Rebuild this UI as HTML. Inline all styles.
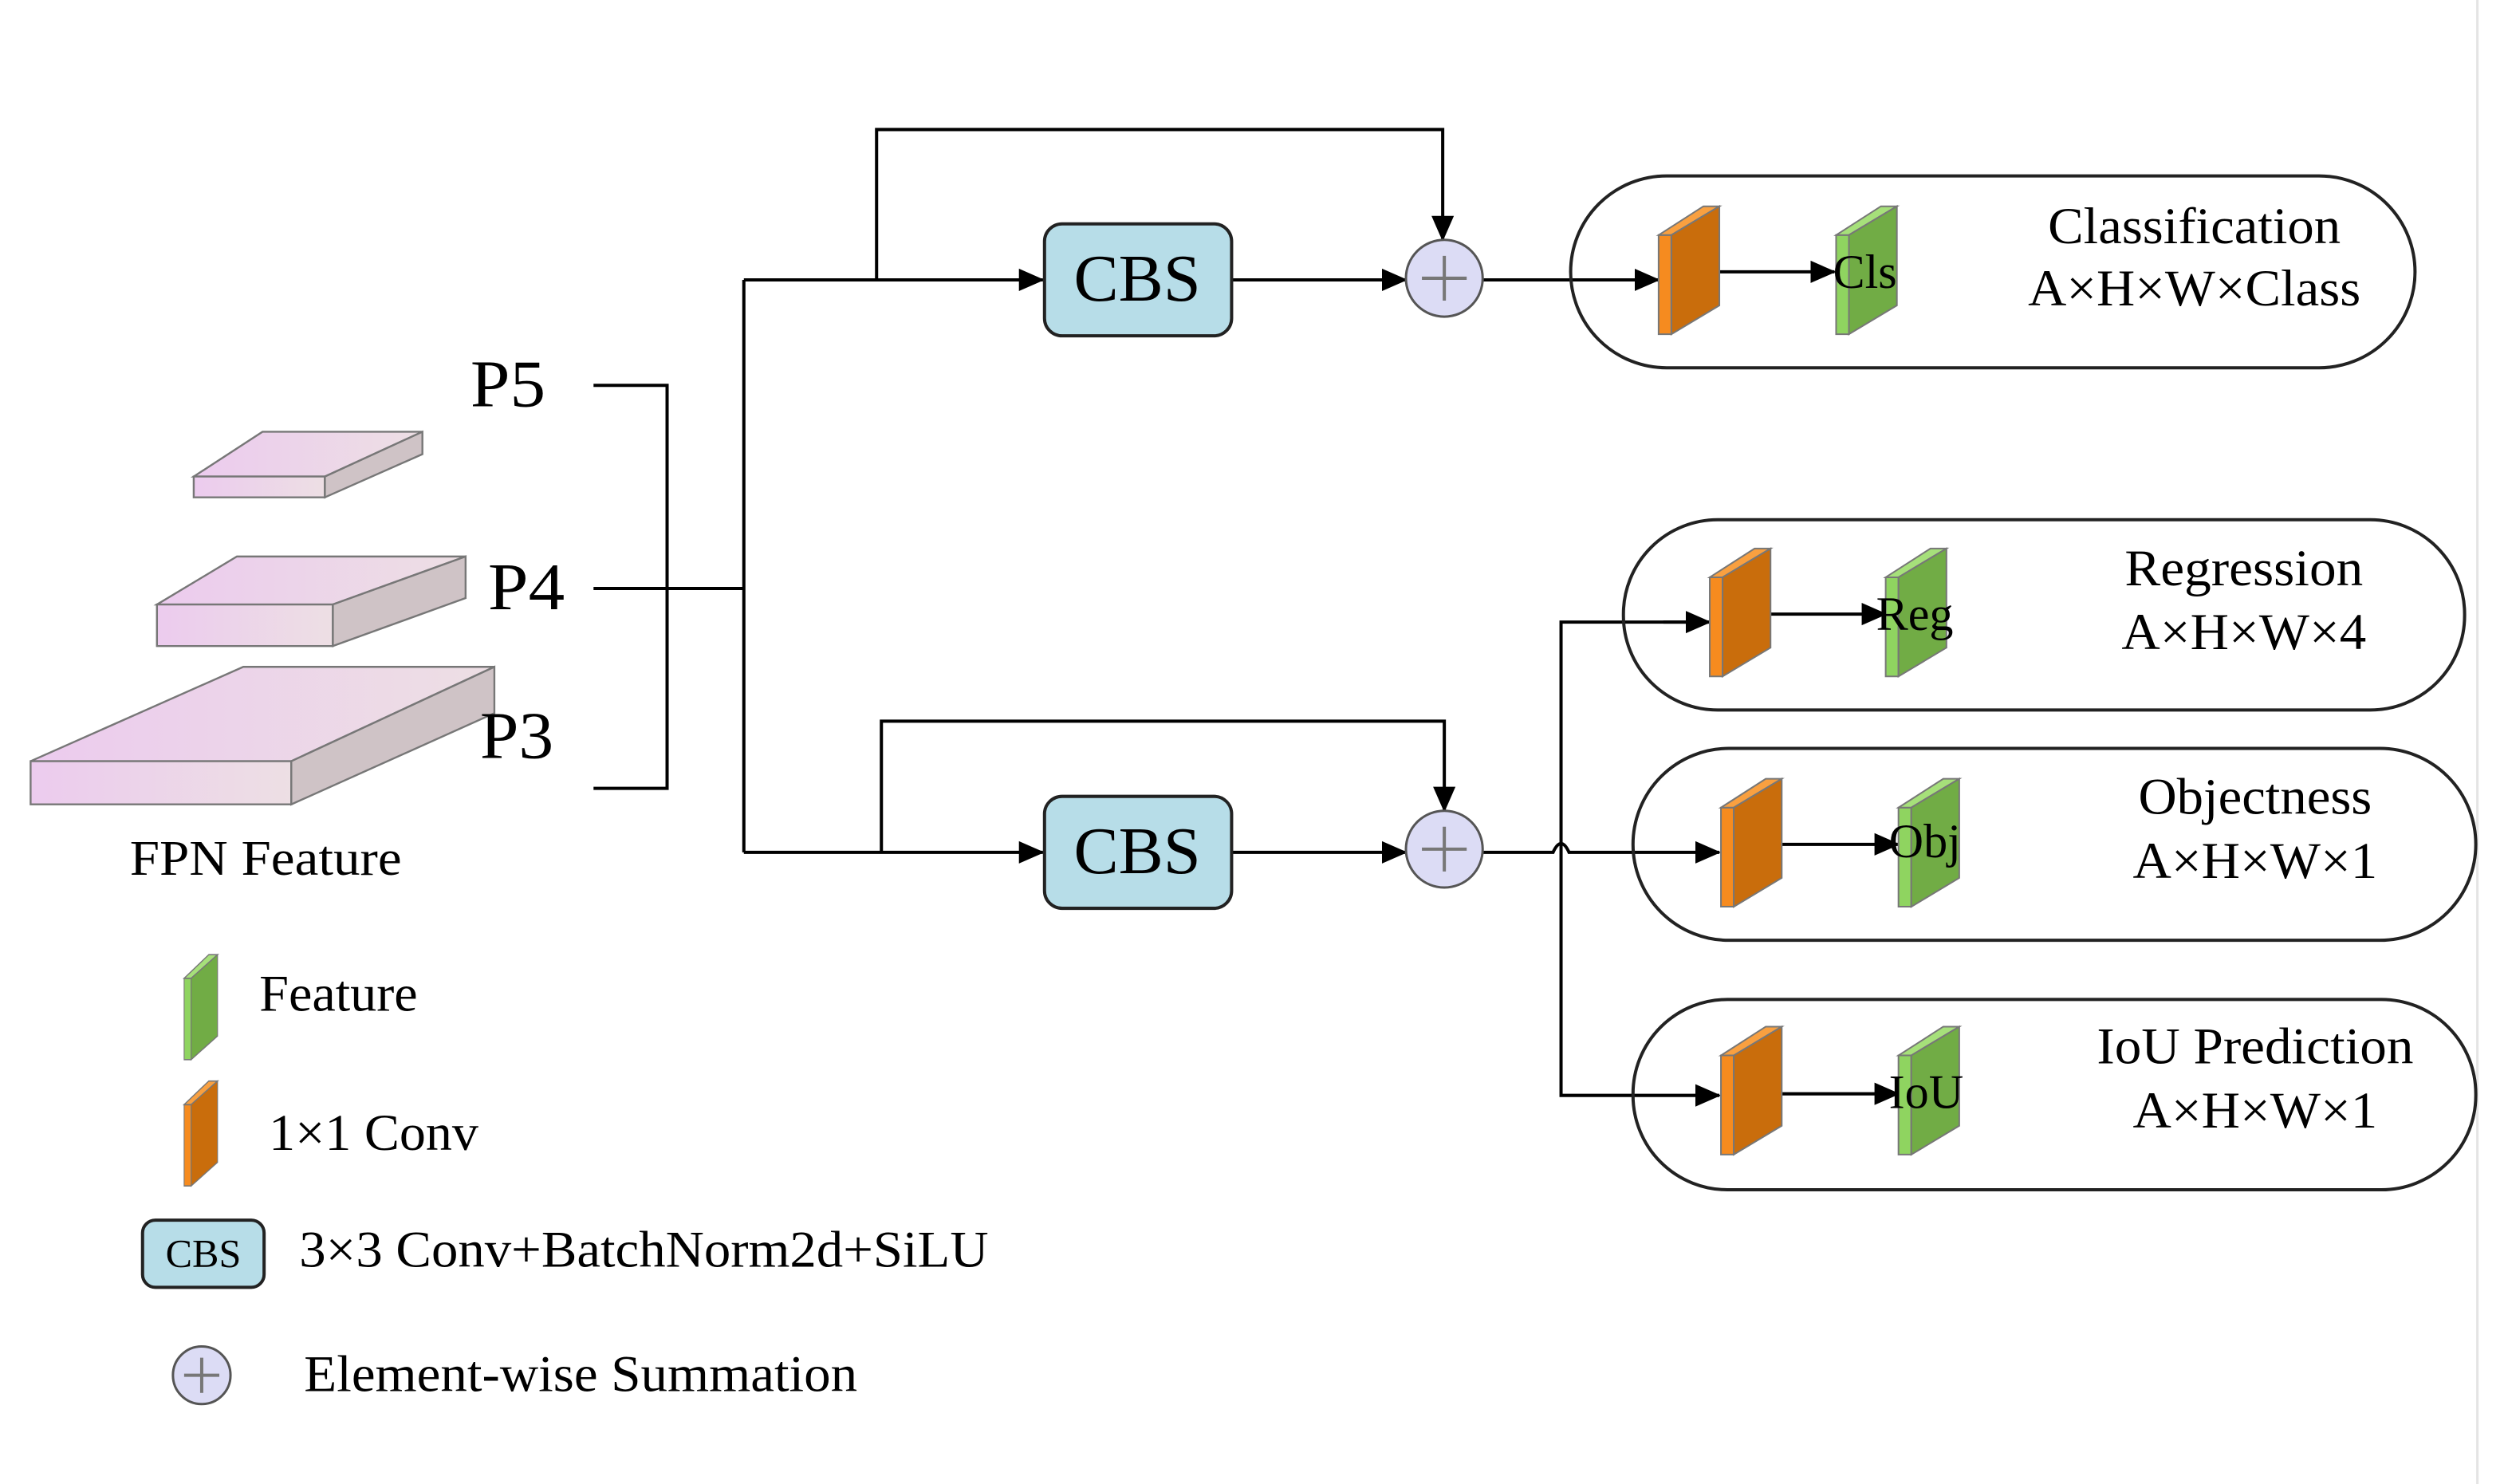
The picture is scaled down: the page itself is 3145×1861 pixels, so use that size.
<!DOCTYPE html>
<html><head><meta charset="utf-8"><style>html,body{margin:0;padding:0;background:#fff}svg{display:block}</style></head><body>
<svg width="3145" height="1861" viewBox="0 0 1568 928" xmlns="http://www.w3.org/2000/svg" font-family="Liberation Serif, serif">
<defs>
<marker id="a" markerWidth="16" markerHeight="16" refX="15" refY="8" orient="auto" markerUnits="userSpaceOnUse" viewBox="0 0 16 16"><path d="M0,1 L16,8 L0,15 z" fill="#000"/></marker>
<linearGradient id="pk" x1="0" x2="1"><stop offset="0" stop-color="#eccbee"/><stop offset="1" stop-color="#eddfe4"/></linearGradient>
<g id="org"><polygon points="0,18 8,18 8,80 0,80" fill="#f68b1f" stroke="#777" stroke-width="1"/><polygon points="0,18 28,0 38,0 8,18" fill="#f9a040" stroke="#777" stroke-width="1"/><polygon points="8,18 38,0 38,62 8,80" fill="#c96d0c" stroke="#777" stroke-width="1"/></g>
<g id="grn"><polygon points="0,18 8,18 8,80 0,80" fill="#8fd460" stroke="#777" stroke-width="1"/><polygon points="0,18 28,0 38,0 8,18" fill="#a6e07a" stroke="#777" stroke-width="1"/><polygon points="8,18 38,0 38,62 8,80" fill="#71ac45" stroke="#777" stroke-width="1"/></g>
</defs>
<line x1="1549" y1="0" x2="1549" y2="928" stroke="#e4e4e4" stroke-width="1.5"/>
<g stroke="#777" stroke-width="1.2">
<polygon points="121,298 164,270 264,270 203,298" fill="url(#pk)"/><polygon points="121,298 203,298 203,311 121,311" fill="url(#pk)"/><polygon points="203,298 264,270 264,284 203,311" fill="#cfc3c6"/>
<polygon points="98,378 148,348 291,348 208,378" fill="url(#pk)"/><polygon points="98,378 208,378 208,404 98,404" fill="url(#pk)"/><polygon points="208,378 291,348 291,374 208,404" fill="#cfc3c6"/>
<polygon points="19,476 152,417 309,417 182,476" fill="url(#pk)"/><polygon points="19,476 182,476 182,503 19,503" fill="url(#pk)"/><polygon points="182,476 309,417 309,446 182,503" fill="#cfc3c6"/>
</g>
<text x="81" y="547" font-size="31" textLength="170" lengthAdjust="spacingAndGlyphs">FPN Feature</text>
<text x="294" y="254" font-size="42" textLength="47" lengthAdjust="spacingAndGlyphs">P5</text>
<text x="305" y="381" font-size="42" textLength="48" lengthAdjust="spacingAndGlyphs">P4</text>
<text x="300" y="474" font-size="42" textLength="46" lengthAdjust="spacingAndGlyphs">P3</text>
<g stroke="#000" stroke-width="2" fill="none">
<polyline points="371,241 417,241 417,493 371,493"/>
<line x1="371" y1="368" x2="465" y2="368"/>
<line x1="465" y1="175" x2="465" y2="533"/>
<line x1="465" y1="175" x2="652" y2="175" marker-end="url(#a)"/>
<polyline points="548,175 548,81 902,81 902,150" marker-end="url(#a)"/>
<line x1="770" y1="175" x2="879" y2="175" marker-end="url(#a)"/>
<line x1="927" y1="175" x2="1037" y2="175" marker-end="url(#a)"/>
<line x1="465" y1="533" x2="652" y2="533" marker-end="url(#a)"/>
<polyline points="551,533 551,451 903,451 903,507" marker-end="url(#a)"/>
<line x1="770" y1="533" x2="879" y2="533" marker-end="url(#a)"/>
<path d="M927,533 L971,533 Q976,522 981,533 L1075,533" marker-end="url(#a)"/>
<polyline points="1068,389 976,389 976,685 1075,685" marker-end="url(#a)"/>
<line x1="1040" y1="389" x2="1069" y2="389" marker-end="url(#a)"/>
<line x1="1075" y1="170" x2="1147" y2="170" marker-end="url(#a)"/>
<line x1="1107" y1="384" x2="1179" y2="384" marker-end="url(#a)"/>
<line x1="1114" y1="528" x2="1187" y2="528" marker-end="url(#a)"/>
<line x1="1114" y1="684" x2="1187" y2="684" marker-end="url(#a)"/>
</g>
<g fill="#b7dde8" stroke="#222" stroke-width="2">
<rect x="653" y="140" width="117" height="70" rx="11"/>
<rect x="653" y="498" width="117" height="70" rx="11"/>
<rect x="89" y="763" width="76" height="42" rx="8"/>
</g>
<text x="711" y="188" font-size="42" text-anchor="middle">CBS</text>
<text x="711" y="546" font-size="42" text-anchor="middle">CBS</text>
<text x="127" y="792" font-size="25" text-anchor="middle">CBS</text>
<g fill="#dcdcf5" stroke="#555" stroke-width="1.5">
<circle cx="903" cy="174" r="24"/><circle cx="903" cy="531" r="24"/><circle cx="126" cy="860" r="18"/>
</g>
<g stroke="#777" stroke-width="2">
<path d="M889,174h28M903,160v28M889,531h28M903,517v28M115,860h22M126,849v22"/>
</g>
<g fill="none" stroke="#222" stroke-width="2">
<rect x="982" y="110" width="528" height="120" rx="60"/>
<rect x="1015" y="325" width="526" height="119" rx="59"/>
<rect x="1021" y="468" width="527" height="120" rx="60"/>
<rect x="1021" y="625" width="527" height="119" rx="59"/>
</g>
<use href="#org" x="1037" y="129"/><use href="#grn" x="1148" y="129"/>
<use href="#org" x="1069" y="343"/><use href="#grn" x="1179" y="343"/>
<use href="#org" x="1076" y="487"/><use href="#grn" x="1187" y="487"/>
<use href="#org" x="1076" y="642"/><use href="#grn" x="1187" y="642"/>
<use href="#grn" x="115" y="597" transform="translate(115,597) scale(0.55,0.82) translate(-115,-597)"/>
<use href="#org" x="115" y="676" transform="translate(115,676) scale(0.55,0.82) translate(-115,-676)"/>
<g font-size="30">
<text x="1146" y="180">Cls</text><text x="1173" y="394">Reg</text><text x="1181" y="536">Obj</text><text x="1181" y="693">IoU</text>
</g>
<g font-size="32" text-anchor="middle">
<text x="1372" y="152" textLength="183" lengthAdjust="spacingAndGlyphs">Classification</text><text x="1372" y="191" textLength="208" lengthAdjust="spacingAndGlyphs">A×H×W×Class</text>
<text x="1403" y="366" textLength="149" lengthAdjust="spacingAndGlyphs">Regression</text><text x="1403" y="406" textLength="153" lengthAdjust="spacingAndGlyphs">A×H×W×4</text>
<text x="1410" y="509" textLength="146" lengthAdjust="spacingAndGlyphs">Objectness</text><text x="1410" y="549" textLength="153" lengthAdjust="spacingAndGlyphs">A×H×W×1</text>
<text x="1410" y="665" textLength="198" lengthAdjust="spacingAndGlyphs">IoU Prediction</text><text x="1410" y="705" textLength="153" lengthAdjust="spacingAndGlyphs">A×H×W×1</text>
</g>
<g font-size="32">
<text x="162" y="632" textLength="99" lengthAdjust="spacingAndGlyphs">Feature</text>
<text x="168" y="719" textLength="131" lengthAdjust="spacingAndGlyphs">1×1 Conv</text>
<text x="187" y="792" textLength="431" lengthAdjust="spacingAndGlyphs">3×3 Conv+BatchNorm2d+SiLU</text>
<text x="190" y="870" textLength="346" lengthAdjust="spacingAndGlyphs">Element-wise Summation</text>
</g>
</svg>
</body></html>
